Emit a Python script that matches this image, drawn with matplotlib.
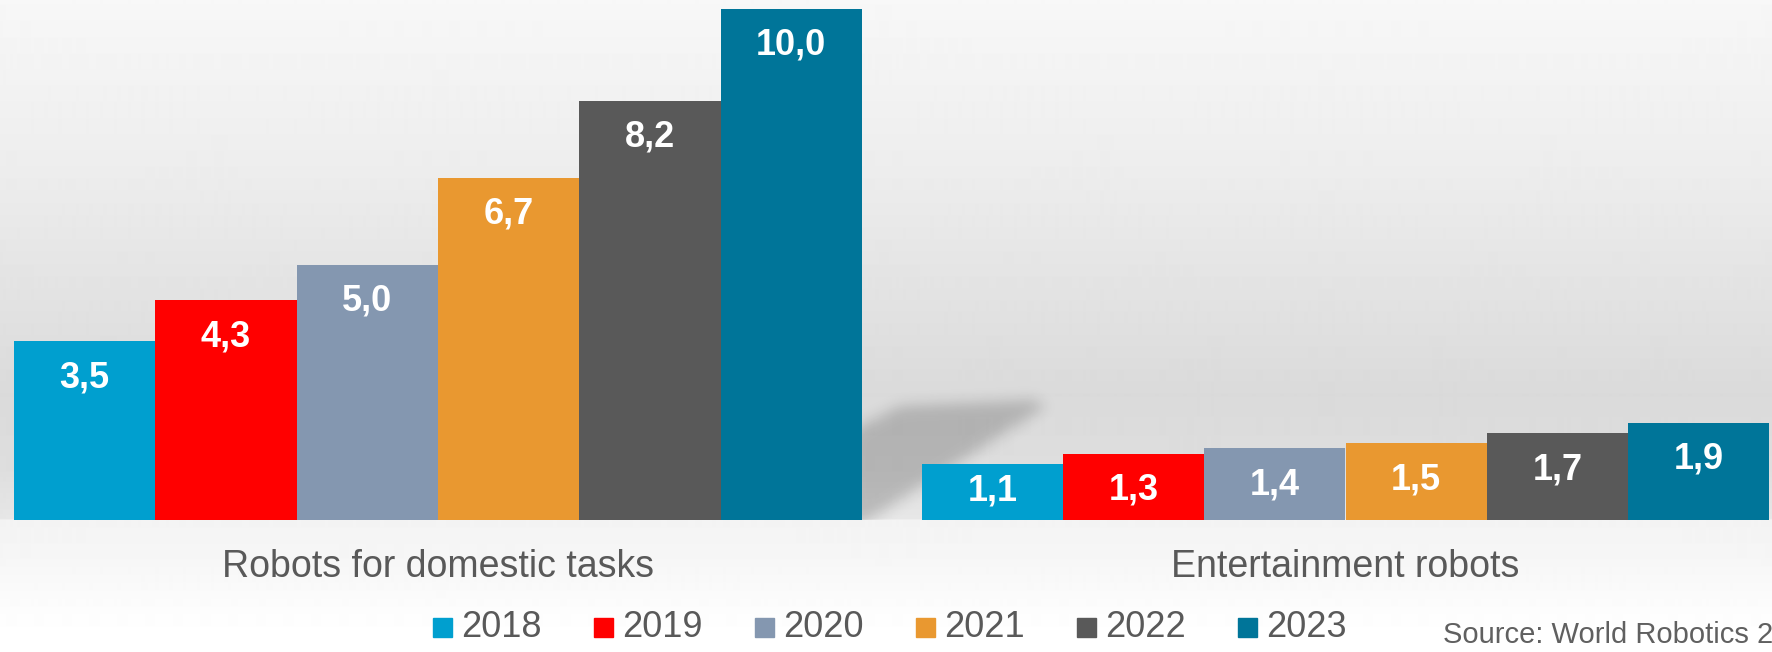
import numpy as np
import matplotlib
matplotlib.use('Agg')
import matplotlib.pyplot as plt
from matplotlib.patches import Rectangle
from matplotlib.path import Path

# ---------------------------------------------------------------------------
# Data
# ---------------------------------------------------------------------------
categories    = ['Robots for domestic tasks', 'Entertainment robots']
years         = ['2018', '2019', '2020', '2021', '2022', '2023']
domestic      = [3.5, 4.3, 5.0, 6.7, 8.2, 10.0]
entertainment = [1.1, 1.3, 1.4, 1.5, 1.7, 1.9]
colors        = ['#009FCF', '#FF0000', '#8497B0', '#E99830', '#595959', '#007599']
source_text   = 'Source: World Robotics 2024'

W, H, DPI = 1772, 652, 100
TEXT_GREY = '#595959'
plt.rcParams['font.family'] = ['Liberation Sans', 'DejaVu Sans']

fig = plt.figure(figsize=(W / DPI, H / DPI), dpi=DPI)

# ---------------------------------------------------------------------------
# Background: vertical grey gradient + soft shadow behind the tall bar
# (pixel coordinates, origin top-left)
# ---------------------------------------------------------------------------
bg = fig.add_axes([0, 0, 1, 1])
bg.set_xlim(0, W)
bg.set_ylim(H, 0)
bg.axis('off')

stops_y = [0, 166, 291, 395, 470, 519, 520, 560, 620, 652]
stops_v = [0.97, 0.93, 0.89, 0.855, 0.87, 0.905, 0.955, 0.965, 0.995, 1.0]
grey = np.interp(np.arange(H) + 0.5, stops_y, stops_v)
bg.imshow(np.repeat(grey[:, None], 2, axis=1), cmap='gray', vmin=0, vmax=1,
          extent=[0, W, H, 0], aspect='auto', interpolation='bilinear', zorder=0)

# shadow wedge, blurred
sx0, sx1, sy0, sy1 = 820, 1100, 360, 540
gx, gy = np.meshgrid(np.arange(sx0, sx1) + 0.5, np.arange(sy0, sy1) + 0.5)
wedge = Path([(850, 432), (900, 406), (1033, 400), (1046, 406),
              (862, 524), (850, 524)])
mask = wedge.contains_points(np.c_[gx.ravel(), gy.ravel()]).reshape(gx.shape)
mask = mask.astype(float)
k = np.exp(-0.5 * (np.arange(-22, 23) / 7.0) ** 2)
k /= k.sum()
mask = np.apply_along_axis(lambda r: np.convolve(r, k, mode='same'), 1, mask)
mask = np.apply_along_axis(lambda c: np.convolve(c, k, mode='same'), 0, mask)
mask[gx < 862] = 0
mask[gy > 520] = 0
shadow = np.zeros(mask.shape + (4,))
shadow[..., 3] = mask * 0.19
bg.imshow(shadow, extent=[sx0, sx1, sy1, sy0], aspect='auto',
          interpolation='bilinear', zorder=1)

# ---------------------------------------------------------------------------
# Bars
# ---------------------------------------------------------------------------
px_unit  = 51.1          # pixels per data unit
grp_dist = 907.5         # pixels between group centres
left_c   = 438.0         # pixel x of first group centre
ax = fig.add_axes([0, 132 / H, 1, 520 / H])
ax.set_xlim(-left_c / grp_dist, (W - left_c) / grp_dist)
ax.set_ylim(0, 520 / px_unit)
ax.axis('off')
ax.patch.set_alpha(0)

bw = 141.3 / grp_dist
x = np.arange(len(categories))
for i, year in enumerate(years):
    vals = [domestic[i], entertainment[i]]
    xs = x + (i - 2.5) * bw
    ax.bar(xs, vals, bw, color=colors[i], linewidth=0, zorder=2)
    for xv, v in zip(xs, vals):
        yl = max(v - 46 / px_unit, 19 / px_unit)
        ax.text(xv, yl, f'{v:.1f}'.replace('.', ','), ha='center', va='baseline',
                fontsize=26, fontweight='bold', color='white', zorder=3)

for j, cat in enumerate(categories):
    ax.text(j, -57 / px_unit, cat, ha='center', va='baseline', fontsize=27,
            color=TEXT_GREY, clip_on=False)

# ---------------------------------------------------------------------------
# Legend and source
# ---------------------------------------------------------------------------
for i, year in enumerate(years):
    lx = 433 + 161 * i
    bg.add_patch(Rectangle((lx, 618), 19, 19, color=colors[i], zorder=3))
    bg.text(lx + 28, 637, year, ha='left', va='baseline', fontsize=26,
            color=TEXT_GREY, zorder=3)

# the reference crops the source note at the right edge
bg.text(1443, 643, source_text, ha='left', va='baseline', fontsize=21,
        color='#606060', zorder=3, clip_on=False)

fig.savefig('out.png', dpi=DPI)
